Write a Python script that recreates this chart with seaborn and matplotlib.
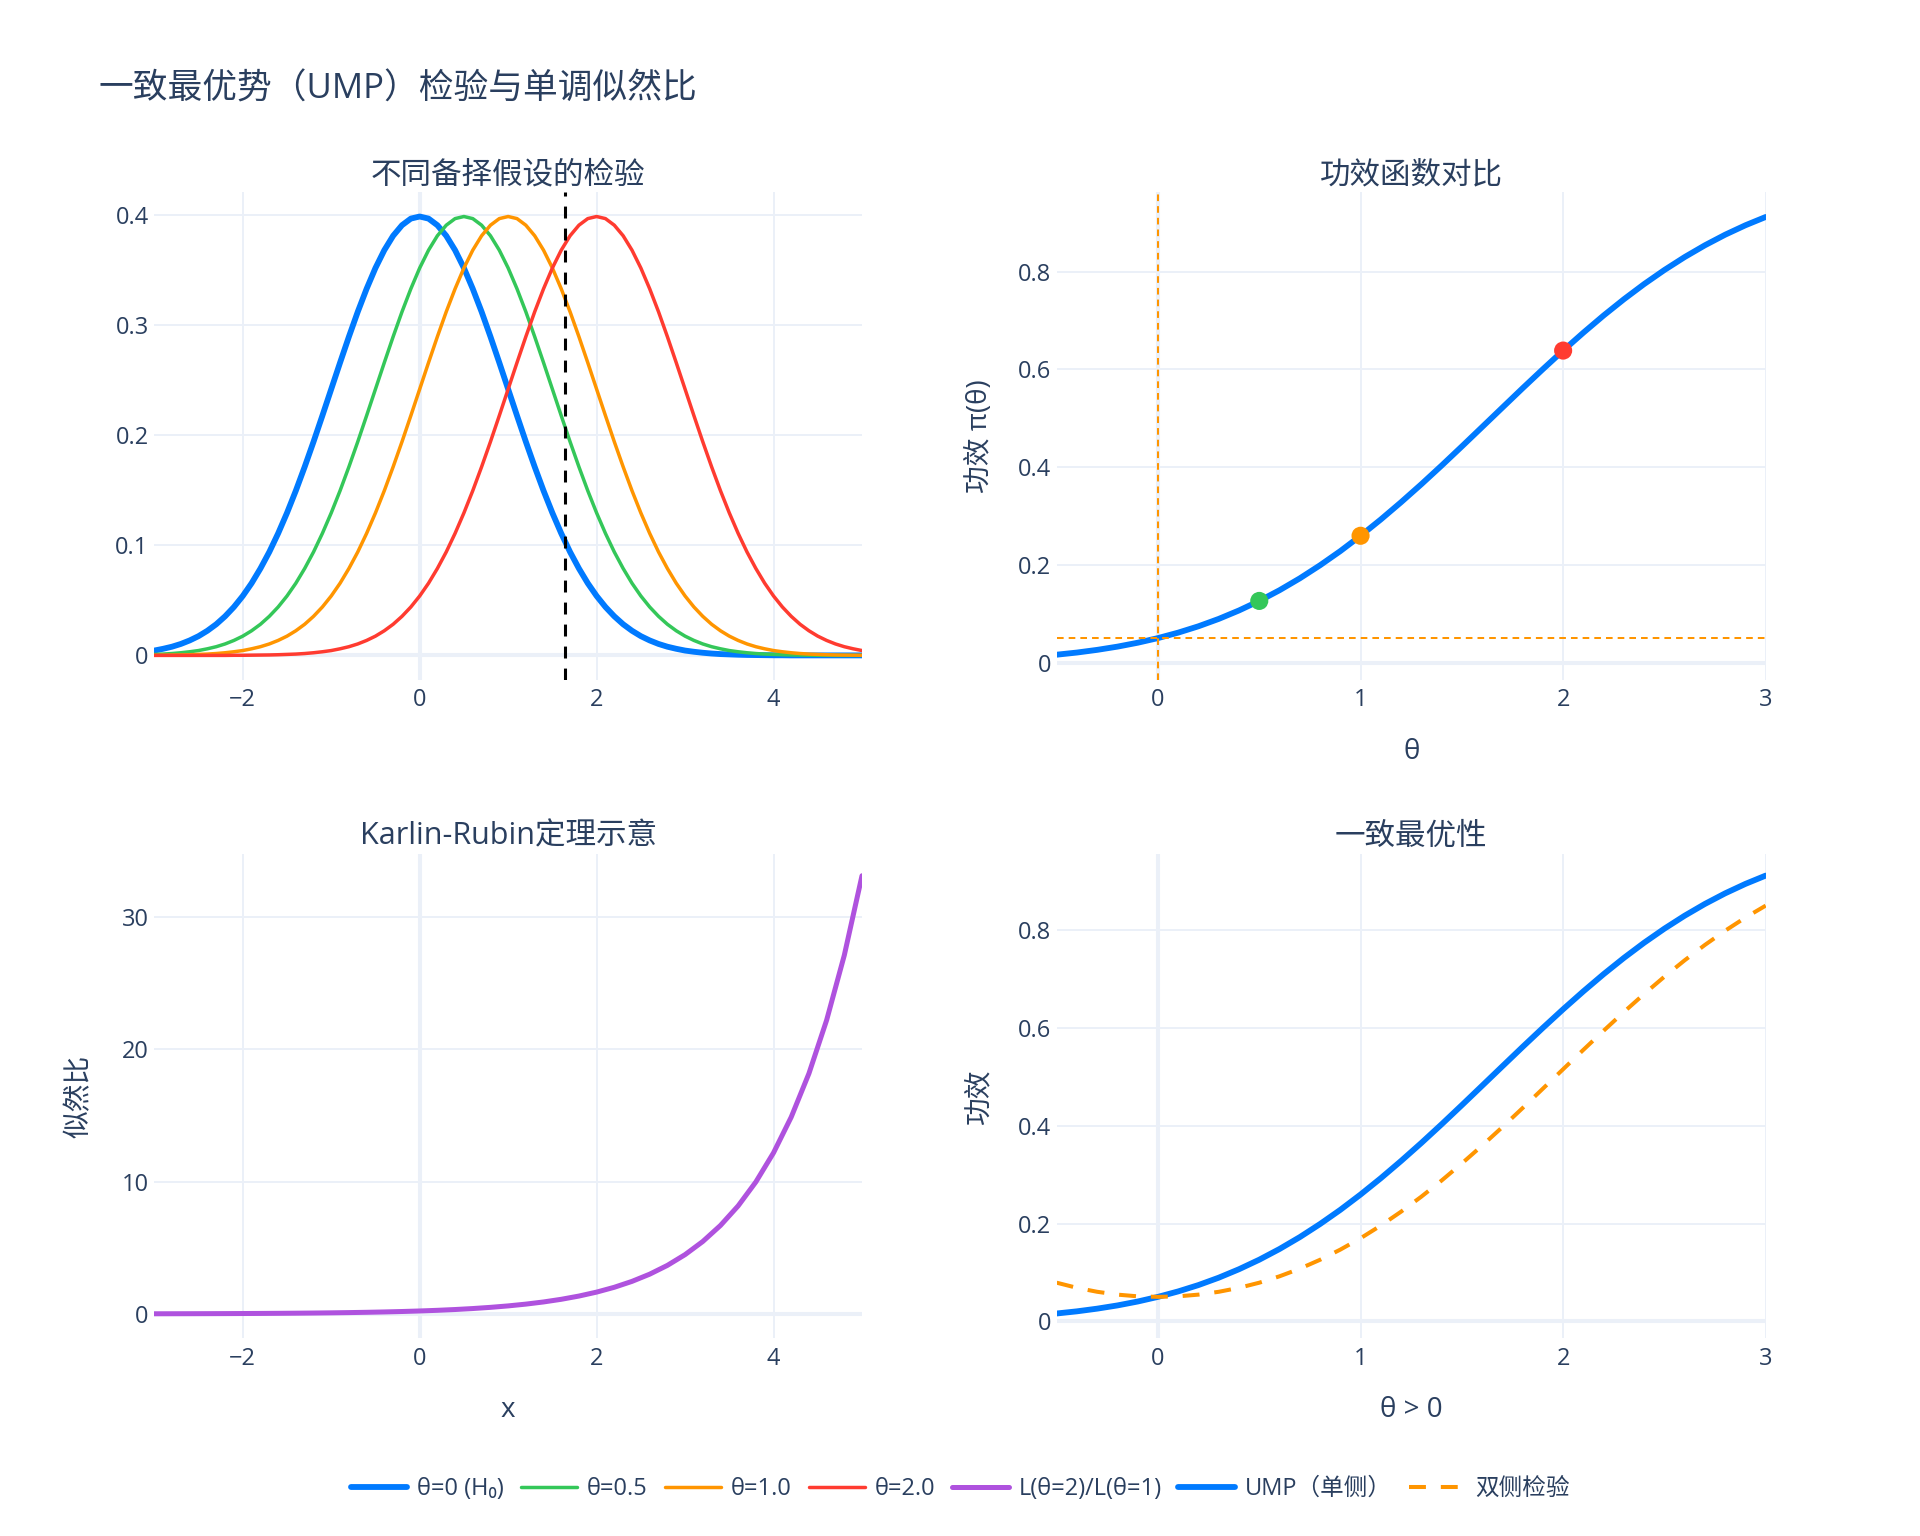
import numpy as np
import matplotlib
matplotlib.use("Agg")
import matplotlib.pyplot as plt
from matplotlib.ticker import FuncFormatter, MultipleLocator
import seaborn as sns

# ---- data ----
x_grid = np.linspace(-3, 5, 81)          # sample positions, step 0.1
pdf_theta0 = [0.0044, 0.0060, 0.0079, 0.0104, 0.0136, 0.0175, 0.0224, 0.0283, 0.0355, 0.0440,
              0.0540, 0.0656, 0.0790, 0.0940, 0.1109, 0.1295, 0.1497, 0.1714, 0.1942, 0.2179,
              0.2420, 0.2661, 0.2897, 0.3123, 0.3332, 0.3521, 0.3683, 0.3814, 0.3910, 0.3970,
              0.3989,
              0.3970, 0.3910, 0.3814, 0.3683, 0.3521, 0.3332, 0.3123, 0.2897, 0.2661, 0.2420,
              0.2179, 0.1942, 0.1714, 0.1497, 0.1295, 0.1109, 0.0940, 0.0790, 0.0656, 0.0540,
              0.0440, 0.0355, 0.0283, 0.0224, 0.0175, 0.0136, 0.0104, 0.0079, 0.0060, 0.0044,
              0.0033, 0.0024, 0.0017, 0.0012, 0.0009, 0.0006, 0.0004, 0.0003, 0.0002, 0.0001,
              0.0001, 0.0, 0.0, 0.0, 0.0, 0.0, 0.0, 0.0, 0.0, 0.0]
pdf_theta05 = [0.0009, 0.0012, 0.0017, 0.0024, 0.0033,
               0.0044, 0.0060, 0.0079, 0.0104, 0.0136, 0.0175, 0.0224, 0.0283, 0.0355, 0.0440,
               0.0540, 0.0656, 0.0790, 0.0940, 0.1109, 0.1295, 0.1497, 0.1714, 0.1942, 0.2179,
               0.2420, 0.2661, 0.2897, 0.3123, 0.3332, 0.3521, 0.3683, 0.3814, 0.3910, 0.3970,
               0.3989,
               0.3970, 0.3910, 0.3814, 0.3683, 0.3521, 0.3332, 0.3123, 0.2897, 0.2661, 0.2420,
               0.2179, 0.1942, 0.1714, 0.1497, 0.1295, 0.1109, 0.0940, 0.0790, 0.0656, 0.0540,
               0.0440, 0.0355, 0.0283, 0.0224, 0.0175, 0.0136, 0.0104, 0.0079, 0.0060, 0.0044,
               0.0033, 0.0024, 0.0017, 0.0012, 0.0009, 0.0006, 0.0004, 0.0003, 0.0002, 0.0001,
               0.0001, 0.0, 0.0, 0.0, 0.0]
pdf_theta1 = [0.0001, 0.0002, 0.0003, 0.0004, 0.0006, 0.0009, 0.0012, 0.0017, 0.0024, 0.0033,
              0.0044, 0.0060, 0.0079, 0.0104, 0.0136, 0.0175, 0.0224, 0.0283, 0.0355, 0.0440,
              0.0540, 0.0656, 0.0790, 0.0940, 0.1109, 0.1295, 0.1497, 0.1714, 0.1942, 0.2179,
              0.2420, 0.2661, 0.2897, 0.3123, 0.3332, 0.3521, 0.3683, 0.3814, 0.3910, 0.3970,
              0.3989,
              0.3970, 0.3910, 0.3814, 0.3683, 0.3521, 0.3332, 0.3123, 0.2897, 0.2661, 0.2420,
              0.2179, 0.1942, 0.1714, 0.1497, 0.1295, 0.1109, 0.0940, 0.0790, 0.0656, 0.0540,
              0.0440, 0.0355, 0.0283, 0.0224, 0.0175, 0.0136, 0.0104, 0.0079, 0.0060, 0.0044,
              0.0033, 0.0024, 0.0017, 0.0012, 0.0009, 0.0006, 0.0004, 0.0003, 0.0002, 0.0001]
pdf_theta2 = [0.0, 0.0, 0.0, 0.0, 0.0, 0.0, 0.0, 0.0, 0.0, 0.0001,
              0.0001, 0.0002, 0.0003, 0.0004, 0.0006, 0.0009, 0.0012, 0.0017, 0.0024, 0.0033,
              0.0044, 0.0060, 0.0079, 0.0104, 0.0136, 0.0175, 0.0224, 0.0283, 0.0355, 0.0440,
              0.0540, 0.0656, 0.0790, 0.0940, 0.1109, 0.1295, 0.1497, 0.1714, 0.1942, 0.2179,
              0.2420, 0.2661, 0.2897, 0.3123, 0.3332, 0.3521, 0.3683, 0.3814, 0.3910, 0.3970,
              0.3989,
              0.3970, 0.3910, 0.3814, 0.3683, 0.3521, 0.3332, 0.3123, 0.2897, 0.2661, 0.2420,
              0.2179, 0.1942, 0.1714, 0.1497, 0.1295, 0.1109, 0.0940, 0.0790, 0.0656, 0.0540,
              0.0440, 0.0355, 0.0283, 0.0224, 0.0175, 0.0136, 0.0104, 0.0079, 0.0060, 0.0044]
critical_value = 1.645

x_lr = np.linspace(-3, 5, 41)            # step 0.2
lr_values = [0.0111, 0.0136, 0.0166, 0.0202, 0.0247, 0.0302, 0.0369, 0.0450, 0.0550, 0.0672,
             0.0821, 0.1003, 0.1225, 0.1496, 0.1827, 0.2231, 0.2725, 0.3329, 0.4066, 0.4966,
             0.6065, 0.7408, 0.9048, 1.105, 1.350, 1.649, 2.014, 2.460, 3.004, 3.669,
             4.482, 5.474, 6.686, 8.166, 9.974, 12.18, 14.88, 18.17, 22.20, 27.11, 33.12]

theta_grid = np.linspace(-0.5, 3, 36)    # step 0.1
power_ump = [0.0160, 0.0204, 0.0259, 0.0325, 0.0405, 0.0500, 0.0612, 0.0742, 0.0893, 0.1066,
             0.1261, 0.1480, 0.1723, 0.1991, 0.2281, 0.2595, 0.2929, 0.3282, 0.3650, 0.4032,
             0.4424, 0.4821, 0.5219, 0.5616, 0.6006, 0.6387, 0.6754, 0.7106, 0.7438, 0.7749,
             0.8037, 0.8302, 0.8543, 0.8760, 0.8953, 0.9123]
power_two = [0.0790, 0.0685, 0.0604, 0.0546, 0.0511, 0.0500, 0.0511, 0.0546, 0.0604, 0.0685,
             0.0790, 0.0921, 0.1077, 0.1259, 0.1467, 0.1700, 0.1960, 0.2244, 0.2551, 0.2881,
             0.3231, 0.3596, 0.3975, 0.4365, 0.4762, 0.5160, 0.5557, 0.5948, 0.6331, 0.6700,
             0.7054, 0.7389, 0.7704, 0.7995, 0.8264, 0.8508]
alpha = 0.05
marker_theta = [0.5, 1.0, 2.0]
marker_power = [0.1261, 0.2595, 0.6387]

labels_pdf = ["θ=0 (H₀)", "θ=0.5", "θ=1.0", "θ=2.0"]
BLUE, GREEN, ORANGE, RED, PURPLE = "#007AFF", "#34C759", "#FF9500", "#FF3B30", "#AF52DE"
TXT = "#2a3f5f"
GRID = "#EBF0F8"

sns.set_theme(style="whitegrid", rc={
    "axes.edgecolor": "white", "grid.color": GRID, "grid.linewidth": 1.4,
    "xtick.color": TXT, "ytick.color": TXT, "axes.labelcolor": TXT, "text.color": TXT,
    "xtick.major.size": 0, "ytick.major.size": 0,
})
plt.rcParams["font.family"] = ["Open Sans", "Noto Sans CJK SC", "DejaVu Sans"]
plt.rcParams["axes.unicode_minus"] = True

fig = plt.figure(figsize=(19.2, 15.36), dpi=100)
W, H = 1920, 1536
cols = [(154.3, 862.0), (1056.7, 1765.7)]
rows = [(192.2, 679.6), (853.5, 1338.4)]
axes = {}
for r, (t, b) in enumerate(rows):
    for c, (l, rr) in enumerate(cols):
        axes[(r, c)] = fig.add_axes([l / W, 1 - b / H, (rr - l) / W, (b - t) / H])

fmt = FuncFormatter(lambda v, _: f"{v:g}".replace("-", "\u2212"))


def style(ax, xlim, ylim, xstep, ystep, title):
    ax.set_xlim(*xlim)
    ax.set_ylim(*ylim)
    ax.xaxis.set_major_locator(MultipleLocator(xstep))
    ax.yaxis.set_major_locator(MultipleLocator(ystep))
    ax.xaxis.set_major_formatter(fmt)
    ax.yaxis.set_major_formatter(fmt)
    ax.tick_params(axis="x", labelsize=17, pad=6)
    ax.tick_params(axis="y", labelsize=17, pad=4)
    for s in ax.spines.values():
        s.set_visible(False)
    ax.axhline(0, color=GRID, lw=2.9, zorder=0.6)
    ax.axvline(0, color=GRID, lw=2.9, zorder=0.6)
    ax.set_axisbelow(True)
    ax.text(0.5, 1 + 17 / 487, title, transform=ax.transAxes, ha="center", va="center",
            fontsize=22, color=TXT)


def labels(ax, xlabel, ylabel, ylab_x):
    if xlabel:
        ax.set_xlabel(xlabel, fontsize=20)
        ax.xaxis.label.set_va("center")
        ax.xaxis.set_label_coords(0.5, -72 / 487)
    if ylabel:
        ax.set_ylabel(ylabel, fontsize=20)
        ax.yaxis.label.set_va("center")
        ax.yaxis.set_label_coords(ylab_x, 0.5)


# 1. densities under different alternatives
ax = axes[(0, 0)]
for vals, col, lab, lw in zip([pdf_theta0, pdf_theta05, pdf_theta1, pdf_theta2],
                              [BLUE, GREEN, ORANGE, RED], labels_pdf, [4.2, 2.5, 2.5, 2.5]):
    sns.lineplot(x=x_grid, y=vals, ax=ax, color=col, linewidth=lw, label=lab)
ax.axvline(critical_value, color="black", lw=2.2, linestyle=(0, (3.9, 3.3)), zorder=3)
style(ax, (-3, 5), (-0.022, 0.421), 2, 0.1, "不同备择假设的检验")

# 2. power function
ax = axes[(0, 1)]
sns.lineplot(x=theta_grid, y=power_ump, ax=ax, color=BLUE, linewidth=4.2)
ax.axhline(alpha, color=ORANGE, lw=1.45, linestyle=(0, (3.3, 2.5)), zorder=2)
ax.axvline(0, color=ORANGE, lw=1.45, linestyle=(0, (3.3, 2.5)), zorder=2)
sns.scatterplot(x=marker_theta, y=marker_power, ax=ax, hue=["a", "b", "c"],
                palette=[GREEN, ORANGE, RED], s=170, edgecolor="none", legend=False, zorder=4)
style(ax, (-0.5, 3), (-0.035, 0.963), 1, 0.2, "功效函数对比")
labels(ax, "θ", "功效 π(θ)", -77 / 709)

# 3. Karlin-Rubin: monotone likelihood ratio
ax = axes[(1, 0)]
sns.lineplot(x=x_lr, y=lr_values, ax=ax, color=PURPLE, linewidth=3.6, label="L(θ=2)/L(θ=1)")
style(ax, (-3, 5), (-1.85, 34.8), 2, 10, "Karlin-Rubin定理示意")
labels(ax, "x", "似然比", -74.7 / 708)

# 4. uniform optimality
ax = axes[(1, 1)]
sns.lineplot(x=theta_grid, y=power_ump, ax=ax, color=BLUE, linewidth=4.2, label="UMP（单侧）")
sns.lineplot(x=theta_grid, y=power_two, ax=ax, color=ORANGE, linewidth=2.9,
             linestyle=(0, (4.2, 3.7)), label="双侧检验")
style(ax, (-0.5, 3), (-0.035, 0.9575), 1, 0.2, "一致最优性")
labels(ax, "θ > 0", "功效", -77 / 709)

handles, names = [], []
for key in [(0, 0), (1, 0), (1, 1)]:
    h, n = axes[key].get_legend_handles_labels()
    handles += h
    names += n
    if axes[key].get_legend() is not None:
        axes[key].get_legend().remove()

fig.legend(handles, names, loc="center", bbox_to_anchor=(0.5, 1 - 1489 / H), ncol=7,
           frameon=False, fontsize=17, handlelength=2.4, handletextpad=0.4,
           columnspacing=0.72, labelcolor=TXT)

fig.text(98 / W, 1 - 90 / H, "一致最优势（UMP）检验与单调似然比", fontsize=25,
         ha="left", va="center", color=TXT)

fig.savefig("out.png", dpi=100, facecolor="white")
